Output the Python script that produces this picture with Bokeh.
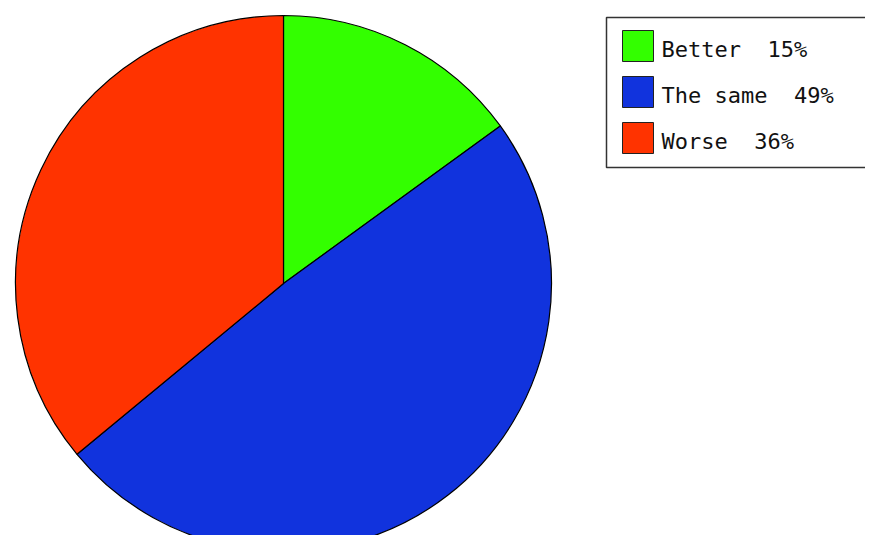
import math
from bokeh.plotting import figure
from bokeh.models import ColumnDataSource, Range1d
from bokeh.core.properties import value
from bokeh.embed import file_html
from bokeh.resources import INLINE

categories = ["Better", "The same", "Worse"]
percents = [15, 49, 36]
colors = ["#33ff00", "#1133dd", "#ff3300"]

W, H = 865, 535
p = figure(width=W, height=H, output_backend="svg", toolbar_location=None,
           x_range=Range1d(0, W), y_range=Range1d(0, H),
           min_border=0, x_axis_location=None, y_axis_location=None)
p.grid.visible = False
p.outline_line_color = None
p.background_fill_color = "white"
p.border_fill_color = "white"

def sy(y):
    # convert a pixel row (from the top) to data y
    return H - y

# pie
total = sum(percents)
starts, ends = [], []
a = math.pi / 2
for v in percents:
    starts.append(a)
    a -= v / total * 2 * math.pi
    ends.append(a)
src = ColumnDataSource(dict(start=starts, end=ends, color=colors, cat=categories))
p.wedge(x=283, y=sy(283), radius=268, start_angle="start", end_angle="end",
        direction="clock", fill_color="color", line_color="black", line_width=1.2,
        source=src)

# legend box
p.quad(left=606, right=900, top=sy(17), bottom=sy(167), fill_color="white",
       line_color="#333333", line_width=1.5)
row_top = [30 + 46 * i for i in range(len(categories))]
p.quad(left=[622] * 3, right=[653] * 3, top=[sy(t) for t in row_top],
       bottom=[sy(t + 31) for t in row_top], fill_color=colors,
       line_color="#222222", line_width=1)
labels = [f"{c} \u00a0{v}%" for c, v in zip(categories, percents)]
p.text(x=[661] * 3, y=[sy(t + 19) for t in row_top], text=labels,
       text_font=value("DejaVu Sans Mono"), text_font_size="22px",
       text_color="#111111", text_baseline="middle", text_align="left")

open("out.html", "w").write(file_html(p, INLINE))
